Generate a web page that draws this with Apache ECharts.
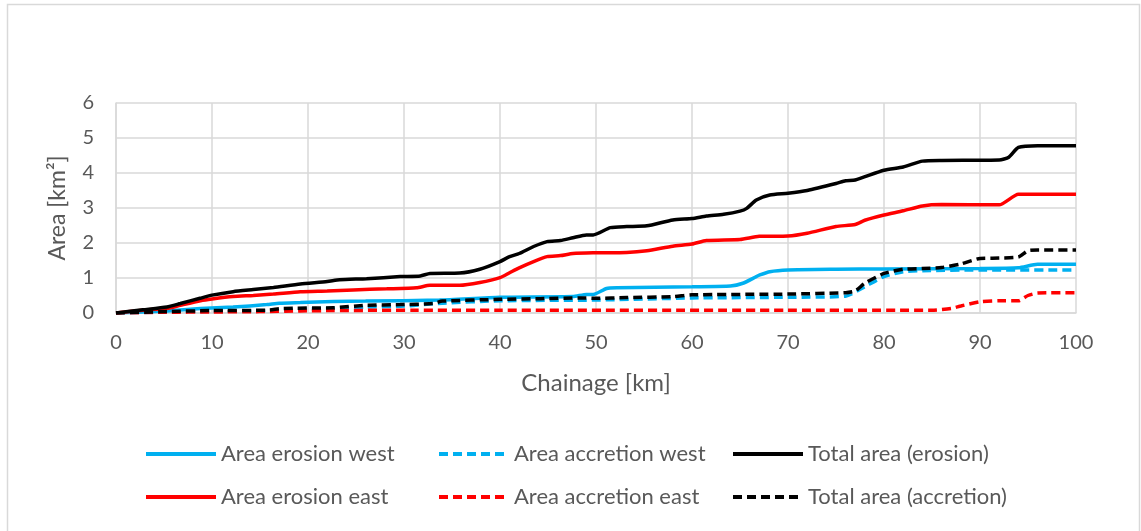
<!DOCTYPE html>
<html>
<head>
<meta charset="utf-8">
<script src="https://cdn.jsdelivr.net/npm/echarts@6/dist/echarts.min.js"></script>
<style>
html,body{margin:0;padding:0;background:#fff;}
#chart{width:1141px;height:531px;}
</style>
</head>
<body>
<div id="chart"></div>
<script>
// ---- Data ----
const xTicks = [0,10,20,30,40,50,60,70,80,90,100];
const yTicks = [0,1,2,3,4,5,6];

const erosionWestX = [0,2.8,5.3,8.8,12.2,15.7,17,19.2,22.6,26,33.7,40,47.6,49,49.7,51.1,52.2,60,64,65.3,66.7,67,68.1,70,75,80,90,94,96,100];
const erosionWestY = [0,0.03,0.06,0.13,0.17,0.24,0.28,0.3,0.33,0.34,0.37,0.45,0.47,0.53,0.53,0.7,0.72,0.75,0.77,0.85,1.04,1.08,1.18,1.23,1.25,1.26,1.27,1.29,1.39,1.39];

const accretionWestX = [0,5.3,10,15.7,19.2,26,30,34,40,50,60,70,76,78,80,82,84,90,100];
const accretionWestY = [0,0.03,0.05,0.06,0.1,0.17,0.2,0.28,0.35,0.37,0.43,0.45,0.48,0.75,1.04,1.18,1.21,1.23,1.23];

const totalErosionX = [0,2.8,5.3,6.7,8.75,10,12.2,14.3,16.4,19.2,22,23.3,26.1,29.6,31.7,32.7,35.8,37.9,40,41,42,43.5,44.9,46.3,47.6,49,49.7,51.5,53.2,55.3,58,60,61.5,63.3,65,65.7,66.7,68.1,70,72,75,76,77,80,82,84,86,92,93,94,96,100];
const totalErosionY = [0,0.09,0.17,0.27,0.42,0.51,0.61,0.67,0.73,0.83,0.9,0.95,0.98,1.04,1.06,1.13,1.14,1.25,1.47,1.61,1.7,1.9,2.04,2.07,2.15,2.23,2.23,2.44,2.47,2.49,2.66,2.7,2.77,2.82,2.91,2.99,3.23,3.37,3.42,3.5,3.7,3.78,3.8,4.08,4.17,4.34,4.36,4.37,4.45,4.73,4.78,4.78];

const erosionEastX = [0,2.8,5.3,6.7,8.8,10,12.2,14.3,16.4,19.2,22,24.7,28.2,31.3,32.7,35.8,37.9,40,41,42,43.5,44.9,46.3,47.6,49.7,53.2,55.3,58,60,61.5,65,67,70,72,75,77,78,80,82,84,86,92,94,100];
const erosionEastY = [0,0.08,0.13,0.22,0.35,0.4,0.47,0.5,0.54,0.61,0.63,0.66,0.69,0.72,0.79,0.79,0.87,1.01,1.15,1.29,1.47,1.61,1.64,1.7,1.72,1.73,1.78,1.91,1.97,2.07,2.1,2.19,2.2,2.28,2.47,2.53,2.65,2.8,2.92,3.06,3.1,3.09,3.39,3.39];

const accretionEastX = [0,5,10,15,19.2,22.6,31,40,70,85,87,88,90,92,94,95,96,100];
const accretionEastY = [0,0.02,0.03,0.04,0.06,0.07,0.08,0.08,0.08,0.08,0.13,0.2,0.32,0.35,0.35,0.5,0.57,0.58];

const totalAccretionX = [0,5.3,10,15.7,17.4,22.6,26,29.6,33,34,40,44.2,48.3,50,53.2,58,60,70,76,77,78,80,82,84,86,88,90,92,94,95,96,100];
const totalAccretionY = [0,0.04,0.07,0.08,0.13,0.15,0.22,0.24,0.27,0.34,0.39,0.41,0.43,0.42,0.44,0.47,0.52,0.54,0.58,0.63,0.85,1.13,1.25,1.27,1.3,1.4,1.56,1.57,1.6,1.78,1.8,1.8];

// ---- Build ----
const pairs = (xs, ys) => xs.map((x, i) => [x, ys[i]]);
const FONT = 'Lato';
const TXT = '#595959';
const BLUE = '#00B0F0', RED = '#FF0000', BLACK = '#000000';
const DASH = [9, 5];

function mk(name, xs, ys, color, dashed, z) {
  return {
    name: name, type: 'line', data: pairs(xs, ys), showSymbol: false, symbol: 'none',
    smooth: 0.2, z: z,
    lineStyle: { color: color, width: 3.5, type: dashed ? DASH : 'solid', cap: 'butt' },
    itemStyle: { color: color }
  };
}

const series = [
  mk('Area erosion west', erosionWestX, erosionWestY, BLUE, false, 2),
  mk('Area accretion west', accretionWestX, accretionWestY, BLUE, true, 3),
  mk('Total area (erosion)', totalErosionX, totalErosionY, BLACK, false, 6),
  mk('Area erosion east', erosionEastX, erosionEastY, RED, false, 5),
  mk('Area accretion east', accretionEastX, accretionEastY, RED, true, 4),
  mk('Total area (accretion)', totalAccretionX, totalAccretionY, BLACK, true, 7)
];

const legendPos = [
  ['Area erosion west', 139, 438],
  ['Area accretion west', 432, 438],
  ['Total area (erosion)', 726, 438],
  ['Area erosion east', 139, 481],
  ['Area accretion east', 432, 481],
  ['Total area (accretion)', 726, 481]
];
const legends = legendPos.map(p => ({
  data: [p[0]], left: p[1], top: p[2], itemWidth: 70, itemHeight: 22,
  itemStyle: { opacity: 0 },
  lineStyle: { width: 4 },
  textStyle: { fontFamily: FONT, fontSize: 22, color: TXT },
  selectedMode: false
}));

const chart = echarts.init(document.getElementById('chart'), null, { renderer: 'canvas' });
chart.setOption({
  animation: false,
  backgroundColor: '#fff',
  textStyle: { fontFamily: FONT },
  graphic: [{
    type: 'rect', shape: { x: 7.5, y: 4.5, width: 1132, height: 540 },
    style: { fill: 'none', stroke: '#D9D9D9', lineWidth: 1.5 }, silent: true
  }],
  legend: legends,
  grid: { left: 116, right: 65, top: 103, height: 210, containLabel: false },
  xAxis: {
    type: 'value', min: 0, max: 100, interval: 10,
    name: 'Chainage [km]', nameLocation: 'middle', nameGap: 58,
    nameTextStyle: { fontFamily: FONT, fontSize: 24, color: TXT },
    axisLine: { show: true, lineStyle: { color: '#D9D9D9', width: 1.5 } },
    axisTick: { show: false },
    axisLabel: { fontFamily: FONT, fontSize: 20, color: TXT, margin: 20,
      formatter: v => xTicks.includes(v) ? String(v) : '' },
    splitLine: { show: true, lineStyle: { color: '#D9D9D9', width: 1.5 } }
  },
  yAxis: {
    type: 'value', min: 0, max: 6, interval: 1,
    name: 'Area [km²]', nameLocation: 'middle', nameGap: 47,
    nameTextStyle: { fontFamily: FONT, fontSize: 23, color: TXT },
    axisLine: { show: true, lineStyle: { color: '#D9D9D9', width: 1.5 } },
    axisTick: { show: false },
    axisLabel: { fontFamily: FONT, fontSize: 20, color: TXT, margin: 22,
      formatter: v => yTicks.includes(v) ? String(v) : '' },
    splitLine: { show: true, lineStyle: { color: '#D9D9D9', width: 1.5 } }
  },
  series: series
});
</script>
</body>
</html>
